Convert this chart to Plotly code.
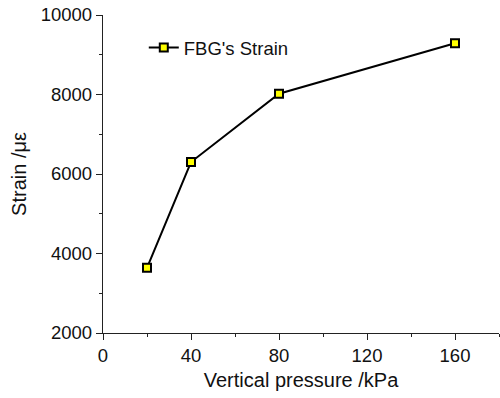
import plotly.graph_objects as go

pressure = [20, 40, 80, 160]
strain = [3640, 6300, 8020, 9290]
series_name = "FBG's Strain"
x_ticks = [0, 40, 80, 120, 160]
y_ticks = [2000, 4000, 6000, 8000, 10000]

FONT = "Liberation Sans, Arial, sans-serif"

fig = go.Figure()
fig.add_trace(go.Scatter(
    x=pressure, y=strain, mode="lines+markers", name=series_name,
    line=dict(color="black", width=2),
    marker=dict(symbol="square", size=8, color="#ffff00",
                line=dict(color="black", width=2)),
))

axis_common = dict(
    showline=True, linecolor="#222", linewidth=1.3,
    ticks="outside", ticklen=6, tickwidth=1.3, tickcolor="#222",
    showgrid=False, zeroline=False, mirror=False, automargin=False,
    tickfont=dict(family=FONT, size=18.5, color="#111"),
    minor=dict(ticks="outside", ticklen=3, tickwidth=1.3, tickcolor="#222"),
)

fig.update_xaxes(range=[0, 180], tickvals=x_ticks, tickformat="d", **axis_common,
                 title=dict(text="Vertical pressure /kPa",
                            font=dict(family=FONT, size=20, color="#111"),
                            standoff=7))
fig.update_yaxes(range=[2000, 10000], tickvals=y_ticks, tickformat="d", **axis_common,
                 title=dict(text="Strain /με",
                            font=dict(family=FONT, size=20, color="#111"),
                            standoff=8))
fig.update_xaxes(minor=dict(dtick=20, tick0=0))
fig.update_yaxes(minor=dict(dtick=1000, tick0=0))

fig.update_layout(
    width=500, height=398,
    margin=dict(l=103, r=1, t=15, b=65),
    paper_bgcolor="white", plot_bgcolor="white",
    showlegend=True,
    legend=dict(x=0.103, y=0.956, xanchor="left", yanchor="top",
                bgcolor="rgba(0,0,0,0)",
                font=dict(family=FONT, size=18.5, color="#111")),
)

fig.write_html("out.html", config={"responsive": False, "displayModeBar": False},
               post_script="document.body.style.margin='0px';")
